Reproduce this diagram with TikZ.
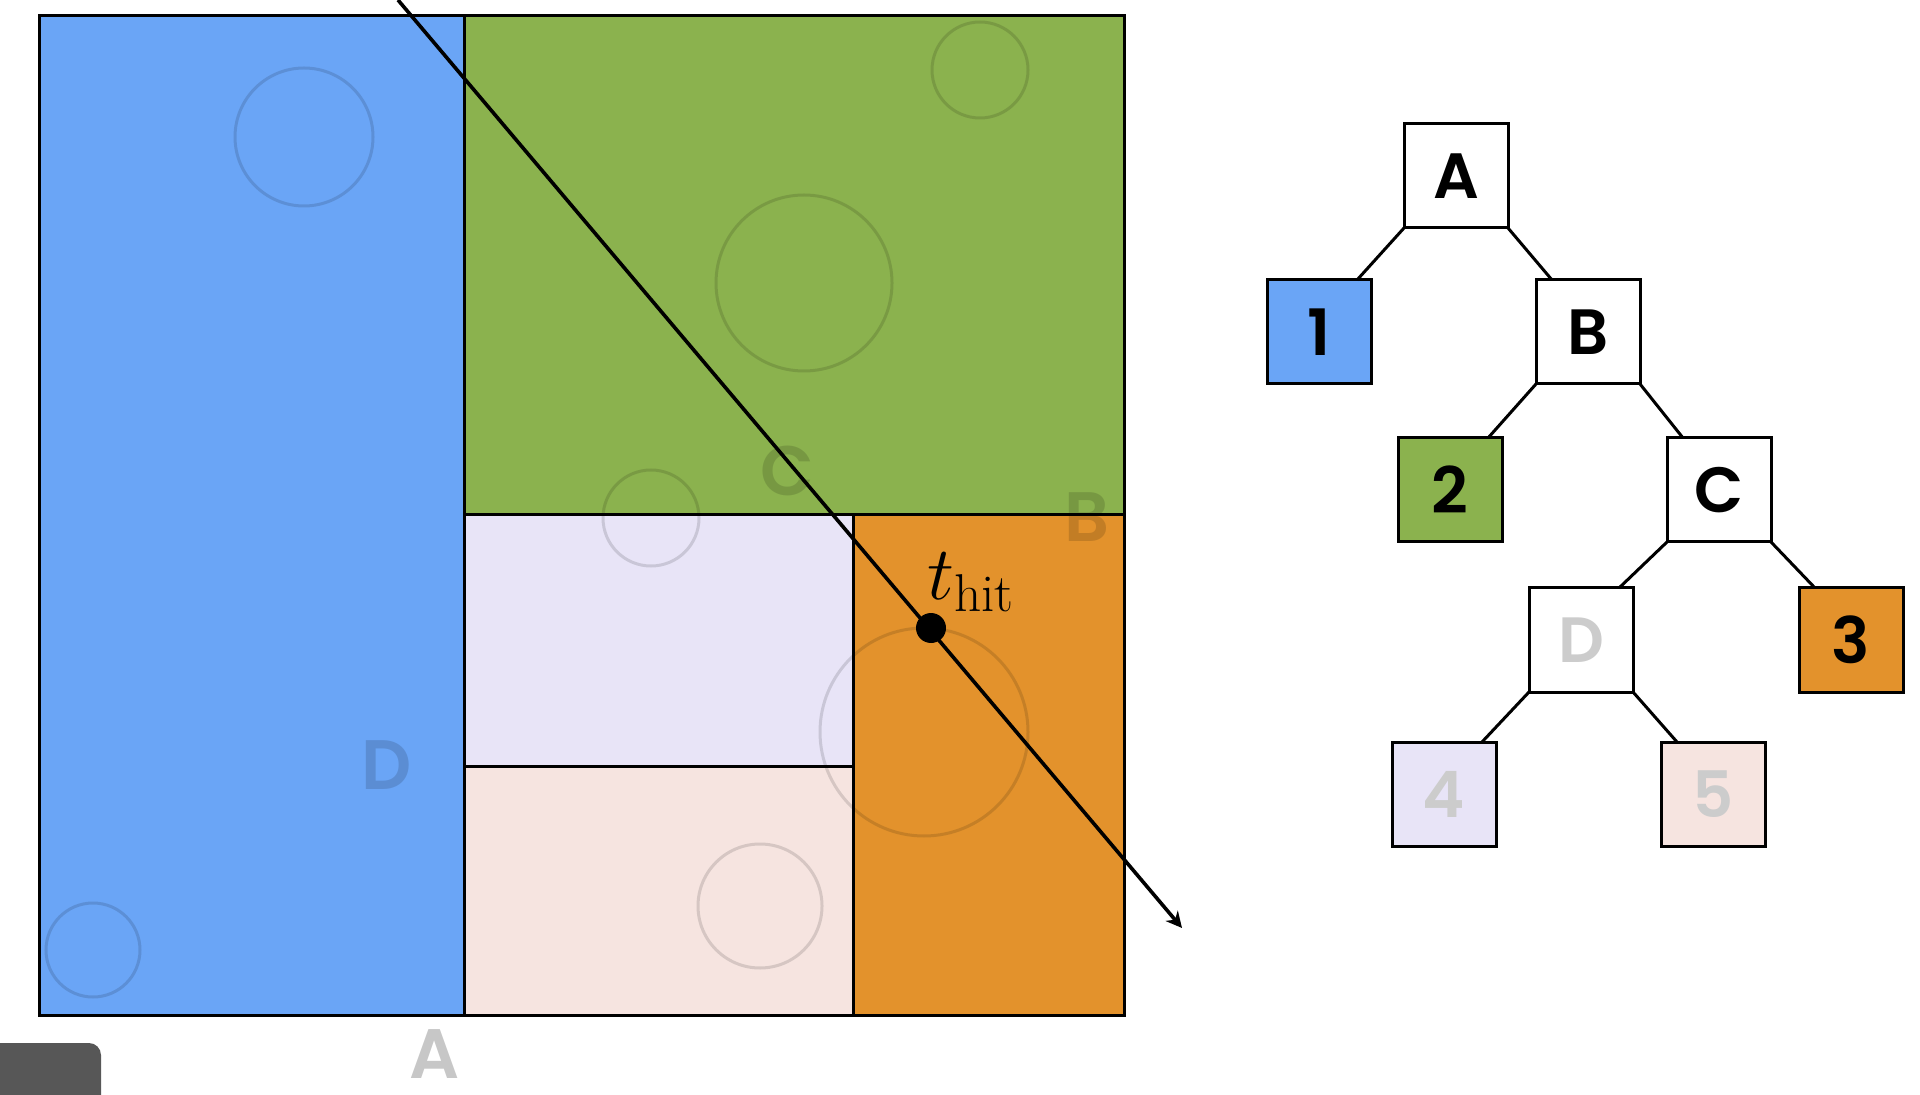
\RequirePackage{fix-cm}
\documentclass[tikz,border=0pt]{standalone}
\usepackage{amsmath}
\usepackage{fontspec}
\usepackage{xcolor}
\usepackage{tikz}
\usetikzlibrary{arrows.meta,positioning}
\newfontfamily\treefont{Poppins}[BoldFont={Poppins SemiBold}]

\definecolor{regblue}{RGB}{106,165,246}
\definecolor{reggreen}{RGB}{139,178,78}
\definecolor{regorange}{RGB}{227,146,44}
\definecolor{reglav}{RGB}{232,228,247}
\definecolor{regpink}{RGB}{246,228,224}
\definecolor{fadetext}{RGB}{204,204,204}

\tikzset{
	region/.style={draw, line width=1.5pt},
	ghost/.style={draw=black, draw opacity=0.13, line width=1.5pt},
	ghostlabel/.style={font=\treefont\bfseries\fontsize{35}{40}\selectfont, text=black, text opacity=0.14, inner sep=0pt},
	treebox/.style={draw, line width=1.5pt, minimum size=52pt, outer sep=0pt, inner sep=0pt,
		font=\treefont\bfseries\fontsize{32}{36}\selectfont},
	edge/.style={line width=1.5pt},
	ray/.style={-{Stealth[length=8pt,width=8pt]}, line width=1.8pt}
}

\begin{document}
\begin{tikzpicture}[x=0.5pt, y=-0.5pt]
	\useasboundingbox (0,0) rectangle (1920,1095);
	
	%% -- Regions of the split scene
	\draw[region, fill=regblue]   (39,16)   rectangle (464,1015);
	\draw[region, fill=reggreen]  (464,16)  rectangle (1124,515);
	\draw[region, fill=reglav]    (464,515) rectangle (853,766);
	\draw[region, fill=regpink]   (464,766) rectangle (853,1015);
	\draw[region, fill=regorange] (853,515) rectangle (1124,1015);
	
	%% -- Faint primitives
	\draw[ghost] (304,137) circle[radius=69];
	\draw[ghost] (93,950)  circle[radius=47];
	\draw[ghost] (980,70)  circle[radius=48];
	\draw[ghost] (804,283) circle[radius=88];
	\draw[ghost] (651,518) circle[radius=48];
	\draw[ghost] (924,732) circle[radius=104];
	\draw[ghost] (760,906) circle[radius=62];
	
	%% -- Faint split labels
	\node[ghostlabel] (lblC) at (787,471) {C};
	\node[ghostlabel] (lblB) at (1087,517) {B};
	\node[ghostlabel] (lblD) at (387,765) {D};
	\node[ghostlabel, text opacity=0.22] (lblA) at (435,1054) {A};
	
	%% -- The ray and its hit
	\coordinate (rayin) at (398,0);
	\coordinate (rayout) at (1182,928);
	\coordinate (hit) at (931,628);
	\draw[ray] (rayin) -- (rayout);
	\fill (hit) circle[radius=15];
	\node[anchor=base west, inner sep=0pt, font=\fontsize{38}{42}\selectfont]
	(thit) at ([xshift=-2pt,yshift=14pt]hit) {$t_{\mathrm{hit}}$};
	
	%% -- Video overlay corner
	\fill[black!66, rounded corners=6pt] (-20,1043) rectangle (101,1120);
	
	%% -- The tree
	\node[treebox] (A) at (1456,176) {A};
	\node[treebox, fill=regblue, below left=26pt and 16.5pt of A] (n1) {1};
	\node[treebox, below right=26pt and 14pt of A] (B) {B};
	\node[treebox, fill=reggreen, below left=27pt and 17pt of B] (n2) {2};
	\node[treebox, below right=27pt and 13.5pt of B] (C) {C};
	\node[treebox, text=fadetext, below left=23pt and 17pt of C] (D) {D};
	\node[treebox, fill=regorange, below right=23pt and 14pt of C] (n3) {3};
	\node[treebox, fill=reglav, text=fadetext, below left=25pt and 16.5pt of D] (n4) {4};
	\node[treebox, fill=regpink, text=fadetext, below right=25pt and 14pt of D] (n5) {5};
	
	\draw[edge] (A.south west) -- ([xshift=-7pt]n1.north east);
	\draw[edge] (A.south east) -- ([xshift=8pt]B.north west);
	\draw[edge] (B.south west) -- ([xshift=-7pt]n2.north east);
	\draw[edge] (B.south east) -- ([xshift=8pt]C.north west);
	\draw[edge] (C.south west) -- ([xshift=-7pt]D.north east);
	\draw[edge] (C.south east) -- ([xshift=8pt]n3.north west);
	\draw[edge] (D.south west) -- ([xshift=-7pt]n4.north east);
	\draw[edge] (D.south east) -- ([xshift=8pt]n5.north west);
	
\end{tikzpicture}
\end{document}
